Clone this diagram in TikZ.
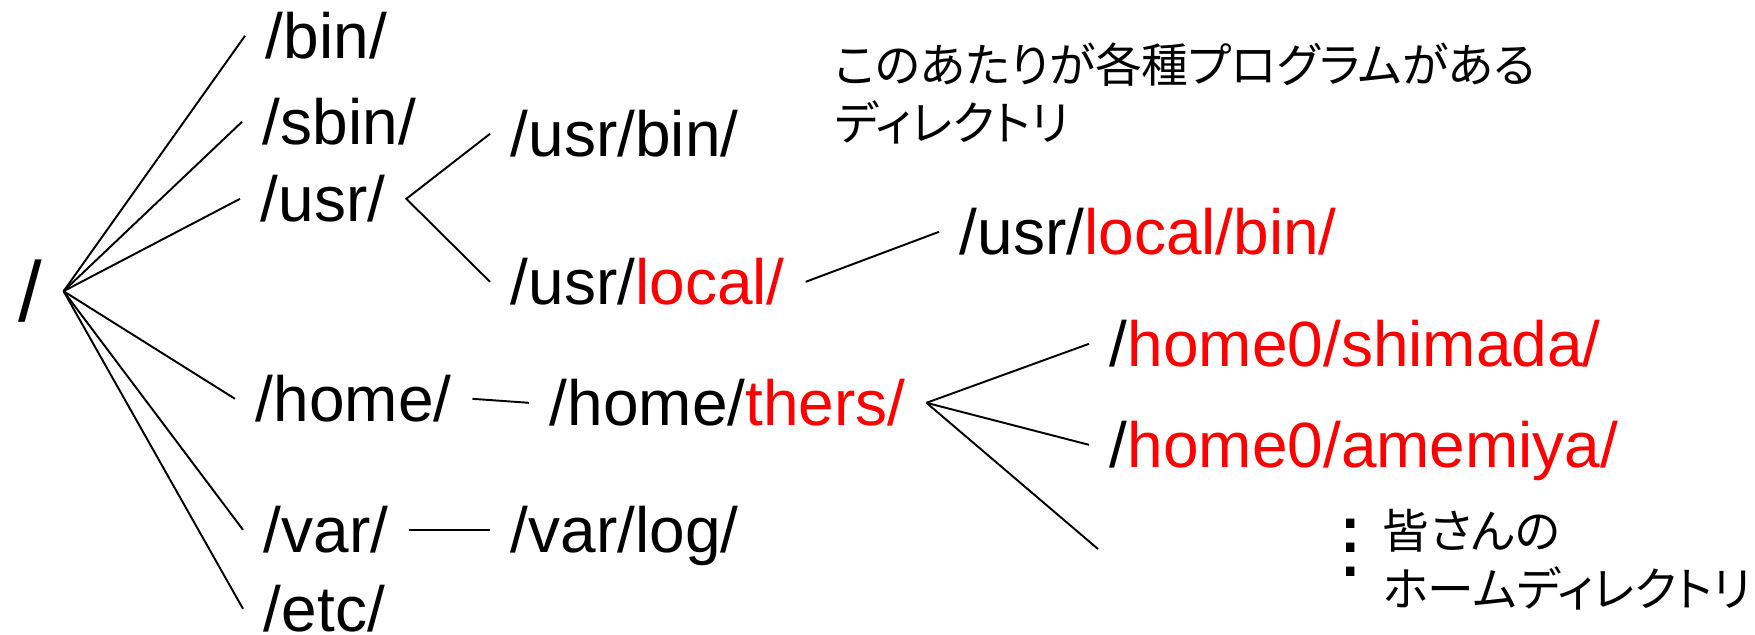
\documentclass[tikz,border=0pt]{standalone}
\usepackage{fontspec}
\setmainfont{Liberation Sans}
\newfontfamily\jpfont[RawFeature=+palt]{Noto Sans CJK JP}

\tikzset{
  dir/.style={inner xsep=2mm, inner ysep=0pt, text depth=0pt, anchor=base west, font=\fontsize{18.2}{22}\selectfont},
  note/.style={inner sep=0pt, anchor=north west, align=left, font=\jpfont\fontsize{13.3}{16.5}\selectfont},
}
\newcommand{\loc}[1]{\textcolor{red}{#1}}

\begin{document}
\begin{tikzpicture}[x=0.1mm, y=-0.1mm, line width=0.55pt]

\useasboundingbox (0,0) rectangle (1755,635);

 \node[dir, font=\fontsize{24.2}{28}\selectfont] (root) at (-2,322) {/};

 \node[dir] (bin)  at (245,59)  {/bin/};
 \node[dir] (sbin) at (242,145) {/sbin/};
 \node[dir] (usr)  at (240,222) {/usr/};
 \node[dir] (home) at (235,422) {/home/};
 \node[dir] (var)  at (243,553) {/var/};
 \node[dir] (etc)  at (243,632) {/etc/};

 \node[dir] (usrbin)   at (490,157)  {/usr/bin/};
 \node[dir] (usrlocal) at (490,305)  {/usr/\loc{local/}};
 \node[dir] (localbin) at (939,255)  {/usr/\loc{local/bin/}};
 \node[dir] (thers)    at (529,426)  {/home/\loc{thers/}};
 \node[dir] (varlog)   at (490,553)  {/var/log/};
 \node[dir] (shimada)  at (1089,367) {/\loc{home0/shimada/}};
 \node[dir] (amemiya)  at (1089,468) {/\loc{home0/amemiya/}};
 \coordinate (more) at (1098,549);

 \node[note] (progs) at (834,42)  {このあたりが各種プログラムがある\\ディレクトリ};
 \node[note] (homes) at (1382,508) {皆さんの\\ホームディレクトリ};
 \node[inner sep=0pt, align=center, font=\fontsize{25}{6.8}\selectfont] (dots) at (1351,548) {.\\.\\.};

 \foreach \n in {bin,sbin,usr,home,var,etc}
   \draw (root.east) -- (\n.west);
 \draw (usrbin.west) -- (usr.east) -- (usrlocal.west);
 \draw (usrlocal.east) -- (localbin.west);
 \draw (home.east) -- (thers.west);
 \draw (var.east) -- (varlog.west);
 \foreach \n in {shimada,amemiya}
   \draw (thers.east) -- (\n.west);
 \draw (thers.east) -- (more);

\end{tikzpicture}
\end{document}
